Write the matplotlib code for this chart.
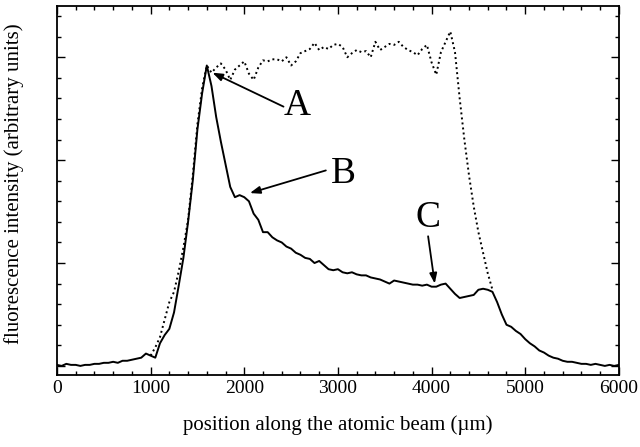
import numpy as np
import matplotlib
matplotlib.use("Agg")
import matplotlib.pyplot as plt
from matplotlib.ticker import MultipleLocator

plt.rcParams['font.family'] = ['Liberation Serif', 'DejaVu Serif']

# Solid curve (x every 50 um from 0 to 6000)
solid_x = list(range(0, 6001, 50))
solid_y = [0.01, 0.00, 0.02, 0.01, 0.01, 0.00, 0.01, 0.01, 0.02, 0.02,
           0.03, 0.03, 0.04, 0.03, 0.05, 0.05, 0.06, 0.07, 0.08, 0.12,
           0.10, 0.08, 0.22, 0.30, 0.36, 0.52, 0.78, 1.05, 1.40, 1.80,
           2.30, 2.65, 2.92, 2.72, 2.42, 2.18, 1.96, 1.74, 1.64, 1.66,
           1.64, 1.60, 1.48, 1.42, 1.30, 1.30, 1.25, 1.22, 1.20, 1.16,
           1.14, 1.10, 1.08, 1.05, 1.04, 1.00, 1.02, 0.98, 0.94, 0.93,
           0.94, 0.91, 0.90, 0.91, 0.89, 0.88, 0.88, 0.86, 0.85, 0.84,
           0.82, 0.80, 0.83, 0.82, 0.81, 0.80, 0.79, 0.79, 0.78, 0.79,
           0.77, 0.77, 0.79, 0.80, 0.75, 0.70, 0.66, 0.67, 0.68, 0.69,
           0.74, 0.75, 0.74, 0.72, 0.62, 0.50, 0.40, 0.38, 0.34, 0.31,
           0.26, 0.22, 0.19, 0.15, 0.13, 0.10, 0.08, 0.07, 0.05, 0.04,
           0.04, 0.03, 0.02, 0.02, 0.01, 0.02, 0.01, 0.00, 0.01, 0.00,
           0.01]

# Dotted curve (x every 50 um from 1000 to 4650)
dotted_x = list(range(1000, 4651, 50))
dotted_y = [0.10, 0.18, 0.28, 0.45, 0.62, 0.72, 0.92, 1.15, 1.42, 1.85,
            2.35, 2.70, 2.92, 2.85, 2.90, 2.94, 2.88, 2.78, 2.88, 2.92,
            2.96, 2.84, 2.78, 2.90, 2.97, 2.96, 2.98, 2.98, 2.96, 3.00,
            2.92, 2.96, 3.04, 3.06, 3.08, 3.14, 3.07, 3.10, 3.08, 3.12,
            3.13, 3.10, 3.00, 3.04, 3.07, 3.05, 3.06, 3.00, 3.15, 3.07,
            3.10, 3.13, 3.12, 3.15, 3.10, 3.07, 3.05, 3.02, 3.08, 3.12,
            2.95, 2.83, 3.05, 3.15, 3.25, 3.05, 2.60, 2.20, 1.85, 1.55,
            1.30, 1.10, 0.90, 0.74]

x_ticks = [0, 1000, 2000, 3000, 4000, 5000, 6000]
x_ticklabels = ["0", "1000", "2000", "3000", "4000", "5000", "6000"]

labels = ["A", "B", "C"]
label_pos = [(2560, 2.53), (3058, 1.87), (3959, 1.44)]
arrow_tail = [(2419, 2.52), (2871, 1.90), (3963, 1.26)]
arrow_head = [(1660, 2.85), (2060, 1.68), (4034, 0.80)]

fig = plt.figure(figsize=(6.4, 4.47), dpi=100)
ax = fig.add_axes([0.089, 0.160, 0.878, 0.827])

ax.plot(dotted_x, dotted_y, color='black', lw=1.4, ls=(0, (1, 1.6)))
ax.plot(solid_x, solid_y, color='black', lw=1.4)

for lab, p, t, h in zip(labels, label_pos, arrow_tail, arrow_head):
    ax.text(p[0], p[1], lab, fontsize=27, ha='center', va='center')
    ax.annotate('', xy=h, xytext=t,
                arrowprops=dict(arrowstyle='-|>,head_length=0.6,head_width=0.22',
                                color='black', lw=1.3, shrinkA=0, shrinkB=0))

ax.set_xlim(0, 6000)
ax.set_ylim(-0.093, 3.5)
ax.set_xticks(x_ticks)
ax.set_xticklabels(x_ticklabels)
ax.xaxis.set_minor_locator(MultipleLocator(200))
ax.set_yticks([0, 1, 2, 3])
ax.yaxis.set_minor_locator(MultipleLocator(0.2))
ax.set_yticklabels([])
ax.tick_params(which='both', direction='in', top=True, right=True, labelsize=14)
ax.tick_params(which='major', length=5.5, width=1.0)
ax.tick_params(which='minor', length=3, width=1.0)
for s in ax.spines.values():
    s.set_linewidth(1.3)

ax.set_xlabel("position along the atomic beam (\u00b5m)", fontsize=15, labelpad=13)
ax.set_ylabel("fluorescence intensity (arbitrary units)", fontsize=15, labelpad=15)
ax.yaxis.set_label_coords(-0.058, 0.52)

fig.savefig("out.png", dpi=100)
